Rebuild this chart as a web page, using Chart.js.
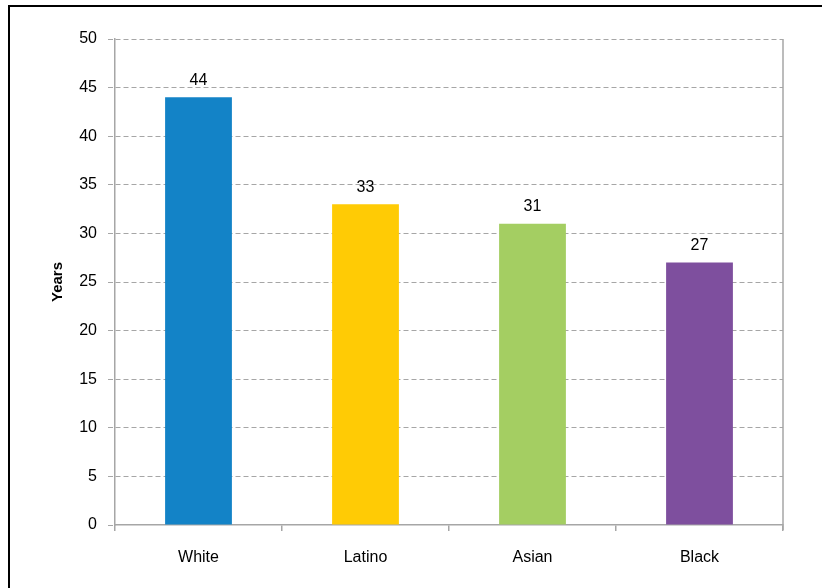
<!DOCTYPE html>
<html>
<head>
<meta charset="utf-8">
<script src="https://cdn.jsdelivr.net/npm/chart.js@4/dist/chart.umd.min.js"></script>
<style>
  html, body { margin: 0; padding: 0; background: #fff; overflow: hidden; width: 822px; height: 588px; }
  #frame { position: absolute; left: 8px; top: 5px; width: 900px; height: 700px; border: 2px solid #000; box-sizing: border-box; }
  #c { position: absolute; left: 0; top: 0; }
</style>
</head>
<body>
<div id="frame"></div>
<canvas id="c" width="822" height="588"></canvas>
<script>
const categories = ["White", "Latino", "Asian", "Black"];
const years = [44, 33, 31, 27];
const barColors = ["#1383C7", "#FFCB05", "#A4CE62", "#7E4F9E"];
const yTicks = [0, 5, 10, 15, 20, 25, 30, 35, 40, 45, 50];

const FONT = "'Liberation Sans', Arial, sans-serif";
const GRID = "#A6A6A6";

const extras = {
  id: 'extras',
  afterDatasetsDraw(chart) {
    const ctx = chart.ctx;
    const area = chart.chartArea;
    ctx.save();
    // right border of plot area
    ctx.strokeStyle = GRID;
    ctx.lineWidth = 1.5;
    ctx.beginPath();
    ctx.moveTo(area.right, area.top);
    ctx.lineTo(area.right, area.bottom + 5);
    ctx.stroke();
    // value labels
    ctx.fillStyle = "#000";
    ctx.font = "16px " + FONT;
    ctx.textAlign = "center";
    ctx.textBaseline = "bottom";
    const meta = chart.getDatasetMeta(0);
    meta.data.forEach((bar, i) => {
      ctx.fillText(String(years[i]), bar.x, bar.y - 9);
    });
    ctx.restore();
  }
};

new Chart(document.getElementById('c'), {
  type: 'bar',
  data: {
    labels: categories,
    datasets: [{
      data: years,
      backgroundColor: barColors,
      borderWidth: 0,
      barPercentage: 0.40,
      categoryPercentage: 1.0
    }]
  },
  options: {
    responsive: false,
    animation: false,
    events: [],
    layout: { padding: { top: 39, right: 39, bottom: 0, left: 0 } },
    plugins: { legend: { display: false }, tooltip: { enabled: false } },
    scales: {
      x: {
        offset: true,
        grid: {
          offset: true,
          drawOnChartArea: false,
          drawTicks: true,
          tickLength: 6,
          color: GRID,
          tickColor: GRID,
          lineWidth: 1.5
        },
        border: { display: true, color: GRID, width: 1.5 },
        ticks: {
          color: "#000",
          font: { family: FONT, size: 16 },
          padding: 17,
          maxRotation: 0
        },
        afterFit(scale) { scale.height = 63; }
      },
      y: {
        min: 0,
        max: 50,
        afterBuildTicks(scale) { scale.ticks = yTicks.map(v => ({ value: v })); },
        grid: {
          color: (c) => (c.tick && c.tick.value === 0) ? 'rgba(0,0,0,0)' : GRID,
          tickColor: GRID,
          lineWidth: 1,
          tickLength: 7,
          tickBorderDash: [5, 3]
        },
        border: { display: true, color: GRID, width: 1.5, dash: [5, 3] },
        ticks: {
          color: "#000",
          font: { family: FONT, size: 16 },
          padding: 11
        },
        title: {
          display: true,
          text: "Years",
          color: "#000",
          font: { family: FONT, size: 15, weight: 'bold' },
          padding: { top: 49, bottom: 0 }
        },
        afterFit(scale) { scale.width = 115; }
      }
    }
  },
  plugins: [extras]
});
</script>
</body>
</html>
